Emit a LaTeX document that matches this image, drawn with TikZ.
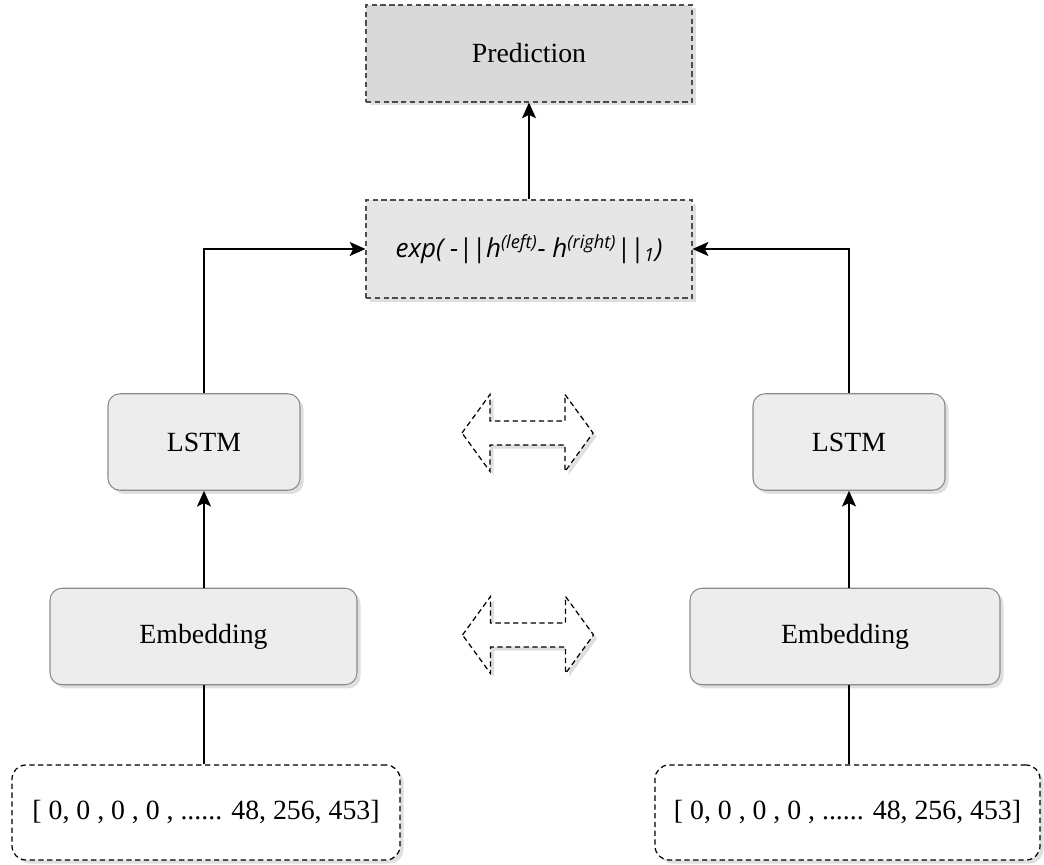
\documentclass[tikz,border=0pt]{standalone}
\usepackage{fontspec}
\setmainfont{Liberation Serif}
\newfontfamily\formulafont{Open Sans}
\usepackage{tikz}
\usetikzlibrary{arrows.meta,positioning,shadows,calc}
\usepackage{xcolor}
\definecolor{sxPred}{HTML}{D9D9D9}
\definecolor{sxSim}{HTML}{E6E6E6}
\definecolor{sxBlock}{HTML}{EDEDED}
\definecolor{sxEdge}{HTML}{8A8A8A}
\definecolor{sxDash}{HTML}{4D4D4D}
\tikzset{
    % box styles
    softshadow/.style={drop shadow={opacity=0.25,shadow xshift=2pt,shadow yshift=-2pt}},
    predbox/.style={rectangle,draw=sxDash,fill=sxPred,dash pattern=on 3pt off 2pt,line width=0.6pt,minimum width=6.52cm,minimum height=1.94cm,softshadow},
    simbox/.style={rectangle,draw=sxDash,fill=sxSim,dash pattern=on 3pt off 2pt,line width=0.6pt,minimum width=6.52cm,minimum height=1.96cm,softshadow},
    layerbox/.style={rectangle,rounded corners=0.24cm,draw=sxEdge,fill=sxBlock,line width=0.6pt,minimum height=1.93cm,softshadow},
    inputbox/.style={rectangle,rounded corners=0.28cm,draw=black,fill=white,dash pattern=on 3pt off 2pt,line width=0.7pt,minimum height=1.9cm,softshadow},
    swaparrow/.style={draw=black,fill=white,dash pattern=on 3pt off 2pt,line width=0.7pt,softshadow},
    % flow styles
    flow/.style={-{Stealth[length=9pt,width=8pt,inset=2pt]},line width=0.8pt},
    feed/.style={line width=0.8pt}
}
\newcommand{\normbar}{|\kern-0.5pt|}

\begin{document}
\begin{tikzpicture}[font=\fontsize{15.8}{18}\selectfont]
    \useasboundingbox (0,0) rectangle (20.88,17.3);

    % Top: prediction and similarity
    \node[predbox] (pred) at (10.58,16.23) {Prediction};
    \node[simbox] (simfn) at (10.58,12.32) {\formulafont\itshape\fontsize{14.8}{18}\selectfont exp( -\normbar h\textsuperscript{(left)}- h\textsuperscript{(right)}\normbar\textsubscript{1})};

    % Left branch
    \node[layerbox,minimum width=3.84cm] (lstmL) at (4.08,8.46) {LSTM};
    \node[layerbox,minimum width=6.14cm] (embL) at (4.07,4.57) {Embedding};
    \node[inputbox,minimum width=7.76cm] (inL) at (4.12,1.05) {[ 0, 0 , 0 , 0 , ...... 48, 256, 453]};

    % Right branch
    \node[layerbox,minimum width=3.84cm] (lstmR) at (16.98,8.46) {LSTM};
    \node[layerbox,minimum width=6.2cm] (embR) at (16.9,4.57) {Embedding};
    \node[inputbox,minimum width=7.7cm] (inR) at (16.95,1.05) {[ 0, 0 , 0 , 0 , ...... 48, 256, 453]};

    % Shared weights arrows
    \draw[swaparrow,shift={(10.55,8.64)}] (-1.31,0) -- (-0.75,0.77) -- (-0.75,0.24) -- (0.75,0.24) -- (0.75,0.77) -- (1.31,0) -- (0.75,-0.77) -- (0.75,-0.24) -- (-0.75,-0.24) -- (-0.75,-0.77) -- cycle;
    \draw[swaparrow,shift={(10.56,4.6)}] (-1.31,0) -- (-0.75,0.77) -- (-0.75,0.24) -- (0.75,0.24) -- (0.75,0.77) -- (1.31,0) -- (0.75,-0.77) -- (0.75,-0.24) -- (-0.75,-0.24) -- (-0.75,-0.77) -- cycle;

    % Connections
    \draw[feed] (inL.north -| lstmL.south) -- (embL.south -| lstmL.south);
    \draw[feed] (inR.north -| lstmR.south) -- (embR.south -| lstmR.south);
    \draw[flow] (embL.north -| lstmL.south) -- (lstmL.south);
    \draw[flow] (embR.north -| lstmR.south) -- (lstmR.south);
    \draw[flow] (lstmL.north) |- (simfn.west);
    \draw[flow] (lstmR.north) |- (simfn.east);
    \draw[flow] (simfn.north) -- (pred.south);
\end{tikzpicture}
\end{document}
